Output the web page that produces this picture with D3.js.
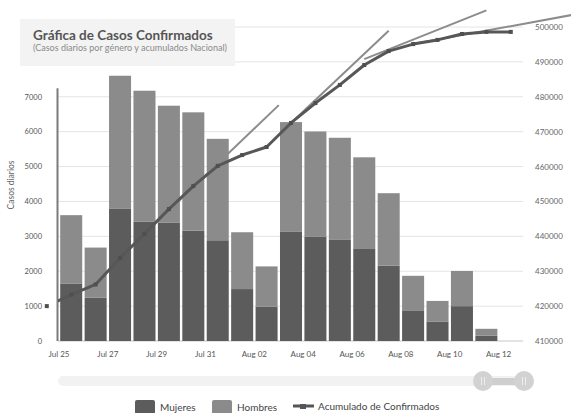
<html>
<head>
<meta http-equiv="content-type" content="text/html; charset=UTF8">
<title>Gráfica de Casos Confirmados</title>
<script type="text/javascript" src="https://cdnjs.cloudflare.com/ajax/libs/d3/7.8.5/d3.min.js"></script>
<style type="text/css">
body { margin: 0; padding: 0; background: #fff; overflow: hidden; font-family: Lato, "Open Sans", sans-serif; }
svg text { font-family: Lato, "Open Sans", sans-serif; }
</style>
</head>
<body>
<div id="chart"></div>
<script type="text/javascript">

// daily cases (bars), one per day
var fechas = ["2020-07-25", "2020-07-26", "2020-07-27", "2020-07-28", "2020-07-29", "2020-07-30",
    "2020-07-31", "2020-08-01", "2020-08-02", "2020-08-03", "2020-08-04", "2020-08-05",
    "2020-08-06", "2020-08-07", "2020-08-08", "2020-08-09", "2020-08-10", "2020-08-11"];
var mujeres = [1650, 1240, 3790, 3420, 3390, 3170, 2890, 1490, 990, 3130, 3000, 2900, 2640, 2160, 880, 550, 1000, 150];
var hombres = [1960, 1440, 3820, 3760, 3360, 3390, 2910, 1630, 1150, 3150, 3010, 2930, 2630, 2080, 990, 600, 1010, 200];

// cumulative confirmed, points sit in the middle of each day
var fechasAcum = ["2020-07-24", "2020-07-25", "2020-07-26", "2020-07-27", "2020-07-28", "2020-07-29",
    "2020-07-30", "2020-07-31", "2020-08-01", "2020-08-02", "2020-08-03", "2020-08-04", "2020-08-05",
    "2020-08-06", "2020-08-07", "2020-08-08", "2020-08-09", "2020-08-10", "2020-08-11", "2020-08-12"];
var acumulado = [420000, 423300, 426200, 433800, 440700, 447800, 454400, 460200, 463300, 465600,
    472500, 478200, 483400, 489100, 493100, 495100, 496300, 498000, 498600, 498600];

// thin gray trend segments [start, end]
var tendenciaFechas = [
    ["2020-07-29T00:00", "2020-08-03T00:00"],
    ["2020-08-03T12:00", "2020-08-07T12:00"],
    ["2020-08-06T12:00", "2020-08-11T12:00"],
    ["2020-08-08T12:00", "2020-08-15T00:00"]
];
var tendenciaValores = [
    [444100, 477600],
    [472500, 498900],
    [490800, 504750],
    [495100, 503450]
];

var ticksIzq = [0, 1000, 2000, 3000, 4000, 5000, 6000, 7000];
var ticksDer = [410000, 420000, 430000, 440000, 450000, 460000, 470000, 480000, 490000, 500000];
var ticksFecha = ["2020-07-25", "2020-07-27", "2020-07-29", "2020-07-31", "2020-08-02",
    "2020-08-04", "2020-08-06", "2020-08-08", "2020-08-10", "2020-08-12"];

(function(){
    var width = 571, height = 413;
    var left = 59, right = 523, top = 27, bottom = 341;
    var parse = d3.utcParse("%Y-%m-%d"),
        parseT = d3.utcParse("%Y-%m-%dT%H:%M");

    var svg = d3.select("#chart").append("svg")
        .attr("width", width)
        .attr("height", height);

    var x = d3.scaleUtc()
        .domain([parse("2020-07-25"), parse("2020-08-13")])
        .range([left, right]);
    var yIzq = d3.scaleLinear().domain([0, 7000]).range([bottom, 97]);
    var yDer = d3.scaleLinear().domain([410000, 500000]).range([bottom, top]);

    // gridlines
    svg.append("g").selectAll("line")
        .data(ticksDer)
        .enter().append("line")
        .attr("x1", left - 1).attr("x2", right)
        .attr("y1", function(d){ return yDer(d); })
        .attr("y2", function(d){ return yDer(d); })
        .attr("stroke", function(d){ return d === 410000 ? "#c8c8c8" : "#e4e4e4"; })
        .attr("stroke-width", 1);

    // title box
    svg.append("rect")
        .attr("x", 20).attr("y", 19).attr("width", 215).attr("height", 47)
        .attr("fill", "#f3f3f3");
    svg.append("text")
        .attr("x", 33).attr("y", 40)
        .style("font-size", "13.5px").style("font-weight", "bold")
        .attr("fill", "#555")
        .text("Gráfica de Casos Confirmados");
    svg.append("text")
        .attr("x", 33).attr("y", 51)
        .style("font-size", "9px")
        .attr("fill", "#8a8a8a")
        .text("(Casos diarios por género y acumulados Nacional)");

    // stacked bars
    var filas = fechas.map(function(f, i){
        return { fecha: parse(f), mujeres: mujeres[i], hombres: hombres[i] };
    });
    var series = d3.stack().keys(["mujeres", "hombres"])(filas);
    var colores = { mujeres: "#5c5c5c", hombres: "#8b8b8b" };

    svg.append("g").selectAll("g")
        .data(series)
        .enter().append("g")
        .attr("fill", function(s){ return colores[s.key]; })
        .selectAll("rect")
        .data(function(s){ return s; })
        .enter().append("rect")
        .attr("x", function(d){ return x(d.data.fecha) + 1.2; })
        .attr("width", function(d){ return x(d3.utcDay.offset(d.data.fecha, 1)) - x(d.data.fecha) - 2.4; })
        .attr("y", function(d){ return yIzq(d[1]); })
        .attr("height", function(d){ return yIzq(d[0]) - yIzq(d[1]); });

    // left edge line
    svg.append("line")
        .attr("x1", left - 1.5).attr("x2", left - 1.5)
        .attr("y1", yIzq(7250)).attr("y2", bottom)
        .attr("stroke", "#7a7a7a").attr("stroke-width", 2);

    // trend segments
    var lineaT = d3.line()
        .x(function(d){ return x(d[0]); })
        .y(function(d){ return yDer(d[1]); });
    svg.append("g").selectAll("path")
        .data(tendenciaFechas.map(function(par, i){
            return [[parseT(par[0]), tendenciaValores[i][0]], [parseT(par[1]), tendenciaValores[i][1]]];
        }))
        .enter().append("path")
        .attr("d", lineaT)
        .attr("fill", "none")
        .attr("stroke", "#8c8c8c")
        .attr("stroke-width", 2);

    // cumulative line
    var puntos = fechasAcum.map(function(f, i){
        return { fecha: d3.utcHour.offset(parse(f), 12), v: acumulado[i] };
    });
    svg.append("clipPath").attr("id", "plot-clip")
        .append("rect")
        .attr("x", left - 1).attr("y", 0).attr("width", width - left).attr("height", height);
    var linea = d3.line()
        .x(function(d){ return x(d.fecha); })
        .y(function(d){ return yDer(d.v); });
    svg.append("path")
        .datum(puntos)
        .attr("clip-path", "url(#plot-clip)")
        .attr("d", linea)
        .attr("fill", "none")
        .attr("stroke", "#575757")
        .attr("stroke-width", 3)
        .attr("stroke-linejoin", "round");
    svg.append("g").selectAll("rect")
        .data(puntos)
        .enter().append("rect")
        .attr("x", function(d){ return x(d.fecha) - 2; })
        .attr("y", function(d){ return yDer(d.v) - 2; })
        .attr("width", 4).attr("height", 4)
        .attr("fill", "#4f4f4f");

    // left axis labels
    svg.append("g").selectAll("text")
        .data(ticksIzq)
        .enter().append("text")
        .attr("x", 42)
        .attr("y", function(d){ return yIzq(d) + 2.5; })
        .attr("text-anchor", "end")
        .style("font-size", "7.5px")
        .attr("fill", "#555")
        .text(function(d){ return d; });

    svg.append("text")
        .attr("transform", "translate(14," + 185 + ") rotate(-90)")
        .attr("text-anchor", "middle")
        .style("font-size", "8.5px")
        .attr("fill", "#666")
        .text("Casos diarios");

    // right axis labels
    svg.append("g").selectAll("text")
        .data(ticksDer)
        .enter().append("text")
        .attr("x", 535)
        .attr("y", function(d){ return yDer(d) + 3; })
        .style("font-size", "8px")
        .attr("fill", "#666")
        .text(function(d){ return d; });

    // bottom axis labels
    var fmt = d3.utcFormat("%b %d");
    svg.append("g").selectAll("text")
        .data(ticksFecha.map(parse))
        .enter().append("text")
        .attr("x", function(d){ return x(d); })
        .attr("y", 357)
        .attr("text-anchor", "middle")
        .style("font-size", "8px")
        .attr("fill", "#555")
        .text(function(d){ return fmt(d); });

    // scrollbar
    svg.append("rect")
        .attr("x", left - 1).attr("y", 376).attr("width", right - left + 1).attr("height", 10)
        .attr("rx", 5).attr("fill", "#f2f2f2");
    svg.append("rect")
        .attr("x", 483).attr("y", 378).attr("width", 42).attr("height", 7)
        .attr("fill", "#cfcfcf");
    [483, 524].forEach(function(cx){
        svg.append("circle").attr("cx", cx).attr("cy", 381).attr("r", 10).attr("fill", "#d2d2d2");
        svg.append("line").attr("x1", cx - 1.5).attr("x2", cx - 1.5).attr("y1", 377).attr("y2", 385)
            .attr("stroke", "#ededed").attr("stroke-width", 1);
        svg.append("line").attr("x1", cx + 1.5).attr("x2", cx + 1.5).attr("y1", 377).attr("y2", 385)
            .attr("stroke", "#ededed").attr("stroke-width", 1);
    });

    // legend
    var ley = svg.append("g");
    ley.append("rect").attr("x", 135).attr("y", 400).attr("width", 20).attr("height", 14).attr("rx", 2).attr("fill", colores.mujeres);
    ley.append("text").attr("x", 160).attr("y", 411).style("font-size", "10px").attr("fill", "#444").text("Mujeres");
    ley.append("rect").attr("x", 212).attr("y", 400).attr("width", 20).attr("height", 14).attr("rx", 2).attr("fill", colores.hombres);
    ley.append("text").attr("x", 237).attr("y", 411).style("font-size", "10px").attr("fill", "#444").text("Hombres");
    ley.append("line").attr("x1", 293).attr("x2", 314).attr("y1", 406).attr("y2", 406)
        .attr("stroke", "#555").attr("stroke-width", 3);
    ley.append("rect").attr("x", 300).attr("y", 404).attr("width", 6).attr("height", 5).attr("fill", "#555");
    ley.append("text").attr("x", 318).attr("y", 410).style("font-size", "10px").attr("fill", "#444").text("Acumulado de Confirmados");
})();

</script>
</body>
</html>
